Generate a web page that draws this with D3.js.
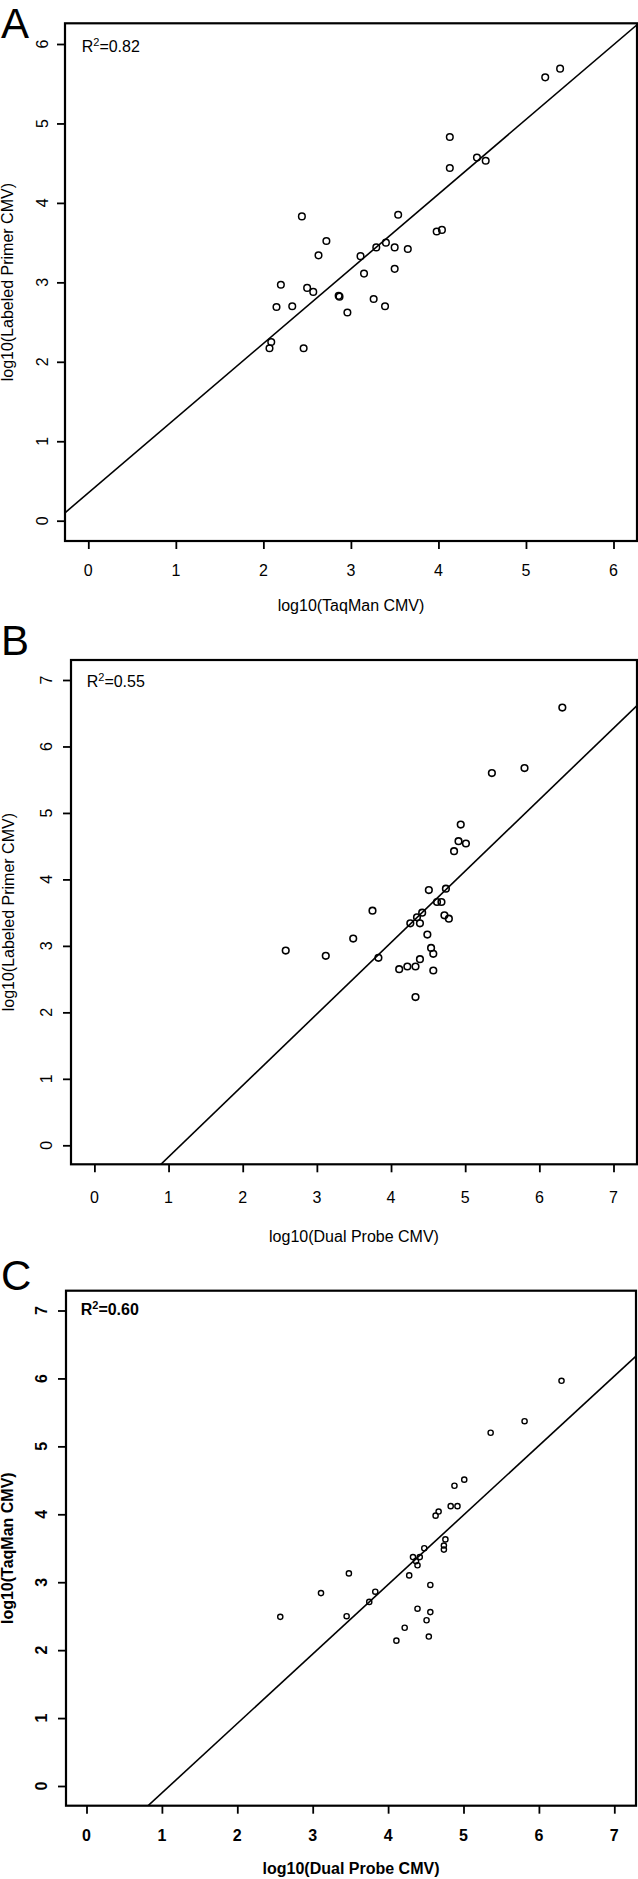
<!DOCTYPE html>
<html>
<head>
<meta charset="utf-8">
<script src="https://cdn.jsdelivr.net/npm/d3@7"></script>
<style>
  html, body { margin: 0; padding: 0; background: #fff; }
  svg { display: block; }
  text { font-family: "Liberation Sans", Arial, sans-serif; fill: #000; }
</style>
</head>
<body>
<svg id="chart" width="638" height="1879"></svg>
<script>
// ---------------- data ----------------
const panelLetters = ["A", "B", "C"];
const xTitles = ["log10(TaqMan CMV)", "log10(Dual Probe CMV)", "log10(Dual Probe CMV)"];
const yTitles = ["log10(Labeled Primer CMV)", "log10(Labeled Primer CMV)", "log10(TaqMan CMV)"];
const rsqValues = ["0.82", "0.55", "0.60"];

const ticksA = [0, 1, 2, 3, 4, 5, 6];
const ticksBC = [0, 1, 2, 3, 4, 5, 6, 7];

const aX = [5.22,5.39,4.13,4.13,4.44,4.54,2.44,3.54,3.98,4.04,2.72,3.40,3.29,3.50,3.65,2.63,3.11,3.15,3.50,2.20,2.50,2.57,2.86,2.87,3.26,3.39,2.96,2.15,2.33,2.09,2.07,2.46];
const aY = [5.58,5.69,4.83,4.44,4.57,4.53,3.83,3.85,3.64,3.66,3.52,3.50,3.44,3.44,3.42,3.34,3.33,3.11,3.17,2.97,2.93,2.88,2.83,2.82,2.79,2.70,2.62,2.69,2.70,2.25,2.17,2.17];

const bX = [6.31,5.36,5.80,4.94,4.91,5.01,4.85,4.51,4.74,4.62,4.68,3.75,4.42,4.35,4.72,4.78,4.26,4.39,4.49,3.49,2.58,3.12,3.83,4.54,4.57,4.39,4.22,4.33,4.11,4.57,4.33];
const bY = [6.585,5.60,5.675,4.825,4.575,4.54,4.425,3.84,3.86,3.66,3.66,3.53,3.50,3.43,3.46,3.41,3.34,3.34,3.17,3.11,2.93,2.85,2.82,2.97,2.88,2.80,2.69,2.69,2.65,2.63,2.23];

const cX = [6.30,5.81,5.36,5.01,4.88,4.83,4.92,4.67,4.63,4.76,4.74,4.74,4.48,4.33,4.42,4.37,4.39,3.48,4.28,3.11,3.83,3.75,4.56,2.57,3.45,4.39,4.56,4.51,4.22,4.11,4.54];
const cY = [5.965,5.37,5.20,4.51,4.42,4.12,4.12,4.04,3.98,3.63,3.54,3.48,3.50,3.37,3.37,3.31,3.25,3.13,3.10,2.84,2.86,2.71,2.96,2.49,2.50,2.61,2.56,2.44,2.33,2.14,2.20];

const fitSlopes = [0.94, 1.075, 1.0226];
const fitIntercepts = [0.35, -1.25, -1.125];

// ---------------- layout ----------------
const layout = [
  { xs: aX, ys: aY, ticks: ticksA, xr: [88.3, 613.5], yr: [520.7, 44], box: [65, 637, 23.3, 541],
    letterY: 38, yLabX: 42.5, xLabY: 576, xTitleY: 611, yTitleX: 7, rsq: [81.7, 51.7], r: 3.3, sw: 1.5, bold: false },
  { xs: bX, ys: bY, ticks: ticksBC, xr: [94.4, 613.5], yr: [1145.3, 680], box: [71, 637, 660, 1164.3],
    letterY: 655, yLabX: 46.5, xLabY: 1202.5, xTitleY: 1242, yTitleX: 8, rsq: [86.7, 686.7], r: 3.3, sw: 1.6, bold: false },
  { xs: cX, ys: cY, ticks: ticksBC, xr: [86.5, 614.3], yr: [1786, 1310.5], box: [66, 636, 1290.7, 1805.7],
    letterY: 1290, yLabX: 41.5, xLabY: 1841, xTitleY: 1874, yTitleX: 7, rsq: [80.7, 1315], r: 2.6, sw: 1.4, bold: true }
];

const svg = d3.select("#chart");

layout.forEach((p, i) => {
  const x = d3.scaleLinear().domain([0, p.ticks[p.ticks.length - 1]]).range(p.xr);
  const y = d3.scaleLinear().domain([0, p.ticks[p.ticks.length - 1]]).range(p.yr);
  const [bl, br, bt, bb] = p.box;
  const g = svg.append("g");
  const fw = p.bold ? "bold" : "normal";

  // panel letter
  g.append("text").attr("x", 1).attr("y", p.letterY)
    .attr("font-size", 42).text(panelLetters[i]);

  // clip
  const clipId = "clip" + i;
  svg.append("clipPath").attr("id", clipId)
    .append("rect").attr("x", bl).attr("y", bt).attr("width", br - bl).attr("height", bb - bt);

  // x axis ticks and labels
  const xAxis = d3.axisBottom(x).tickValues(p.ticks).tickSize(8).tickSizeOuter(0).tickFormat(d3.format("d"));
  const xg = g.append("g").attr("transform", `translate(0,${bb})`).call(xAxis);
  xg.select(".domain").remove();
  xg.selectAll(".tick line").attr("stroke", "#000").attr("stroke-width", 1.8);
  xg.selectAll(".tick text").remove();
  g.selectAll(".xl").data(p.ticks).enter().append("text")
    .attr("x", d => x(d)).attr("y", p.xLabY)
    .attr("text-anchor", "middle").attr("font-size", 16).attr("font-weight", fw)
    .text(d => d);

  // y axis ticks and labels
  const yAxis = d3.axisLeft(y).tickValues(p.ticks).tickSize(8).tickSizeOuter(0);
  const yg = g.append("g").attr("transform", `translate(${bl},0)`).call(yAxis);
  yg.select(".domain").remove();
  yg.selectAll(".tick line").attr("stroke", "#000").attr("stroke-width", 1.8);
  yg.selectAll(".tick text").remove();
  g.selectAll(".yl").data(p.ticks).enter().append("text")
    .attr("transform", d => `translate(${p.yLabX},${y(d)}) rotate(-90)`)
    .attr("text-anchor", "middle").attr("dy", "0.35em")
    .attr("font-size", 16).attr("font-weight", fw)
    .text(d => d);

  // titles
  g.append("text").attr("x", (bl + br) / 2).attr("y", p.xTitleY)
    .attr("text-anchor", "middle").attr("font-size", 16).attr("font-weight", fw)
    .text(xTitles[i]);
  g.append("text")
    .attr("transform", `translate(${p.yTitleX},${(bt + bb) / 2}) rotate(-90)`)
    .attr("text-anchor", "middle").attr("dy", "0.35em")
    .attr("font-size", 16).attr("font-weight", fw)
    .text(yTitles[i]);

  // regression line
  const x0 = x.invert(bl), x1 = x.invert(br);
  g.append("line")
    .attr("clip-path", `url(#${clipId})`)
    .attr("x1", x(x0)).attr("y1", y(fitIntercepts[i] + fitSlopes[i] * x0))
    .attr("x2", x(x1)).attr("y2", y(fitIntercepts[i] + fitSlopes[i] * x1))
    .attr("stroke", "#000").attr("stroke-width", 1.6);

  // points
  g.selectAll(".pt").data(p.xs.map((v, k) => [v, p.ys[k]])).enter().append("circle")
    .attr("cx", d => x(d[0])).attr("cy", d => y(d[1])).attr("r", p.r)
    .attr("fill", "none").attr("stroke", "#000").attr("stroke-width", p.sw);

  // box
  g.append("rect").attr("x", bl).attr("y", bt).attr("width", br - bl).attr("height", bb - bt)
    .attr("fill", "none").attr("stroke", "#000").attr("stroke-width", 2.2);

  // R squared
  const rt = g.append("text").attr("x", p.rsq[0]).attr("y", p.rsq[1])
    .attr("font-size", 16).attr("font-weight", fw);
  rt.append("tspan").text("R");
  rt.append("tspan").attr("dy", -6).attr("font-size", 11).text("2");
  rt.append("tspan").attr("dy", 6).text("=" + rsqValues[i]);
});
</script>
</body>
</html>
